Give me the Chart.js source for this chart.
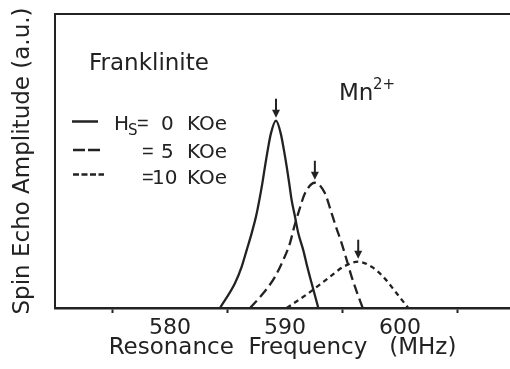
<!DOCTYPE html>
<html>
<head>
<meta charset="utf-8">
<script src="https://cdn.jsdelivr.net/npm/chart.js@4"></script>
<style>
  html, body { margin: 0; padding: 0; background: #fff; }
  #wrap { width: 510px; height: 369px; }
</style>
</head>
<body>
<div id="wrap"><canvas id="myChart"></canvas></div>
<script>
// values (frequency in MHz, amplitude in a.u.)
const freq0 = [584.35, 585.65, 586.23, 586.67, 587.1, 587.48, 587.77, 588.03, 588.26, 588.5, 588.78, 589.22,
               589.63, 589.91, 590.15, 590.37, 590.58, 590.87, 591.16, 591.59, 591.94, 592.32, 592.9];
const amp0  = [0, 8.4, 14, 19.7, 25.4, 31.1, 36.7, 42.4, 48.1, 53.7, 59.4, 63.7,
               59.4, 53.7, 48.1, 42.4, 36.7, 31.1, 25.4, 19.7, 14, 8.4, 0];

const freq5 = [586.96, 588.11, 589.13, 589.85, 590.43, 590.81, 591.24, 591.74, 592.6,
               593.48, 593.97, 594.43, 594.93, 595.37, 595.8, 596.29, 596.76];
const amp5  = [0, 5, 10.6, 16.3, 22, 27.7, 33.3, 39, 42.6,
               39, 33.3, 27.7, 22, 16.3, 10.6, 5, 0];

const freq10 = [590.15, 592.03, 593.91, 595.07, 596.37, 597.54, 598.55, 599.71, 600.72];
const amp10  = [0, 5, 10.6, 14, 15.75, 14, 10.6, 5, 0];

const tickValues = [575, 580, 585, 590, 595, 600, 605];
const tickLabels = { 580: '580', 590: '590', 600: '600' };

const INK = '#222';
const FONT = "'DejaVu Sans', sans-serif";

function pts(xs, ys) {
  return xs.map((x, i) => ({ x: x, y: ys[i] }));
}

const annotations = {
  id: 'annotations',
  afterDatasetsDraw(chart) {
    const ctx = chart.ctx;
    const xs = chart.scales.x, ys = chart.scales.y;
    ctx.save();
    ctx.fillStyle = INK;
    ctx.strokeStyle = INK;
    ctx.textBaseline = 'alphabetic';
    ctx.textAlign = 'left';

    // arrows above each peak
    chart.data.datasets.forEach(ds => {
      let top = ds.data[0];
      ds.data.forEach(p => { if (p.y > top.y) top = p; });
      const px = xs.getPixelForValue(top.x);
      const py = ys.getPixelForValue(top.y);
      ctx.lineWidth = 2;
      ctx.setLineDash([]);
      ctx.beginPath();
      ctx.moveTo(px, py - 22);
      ctx.lineTo(px, py - 8);
      ctx.stroke();
      ctx.beginPath();
      ctx.moveTo(px, py - 3);
      ctx.lineTo(px - 4, py - 11);
      ctx.lineTo(px + 4, py - 11);
      ctx.closePath();
      ctx.fill();
    });

    ctx.font = '23px ' + FONT;
    ctx.fillText('Franklinite', 89, 70);
    ctx.fillText('Mn', 339, 100);
    ctx.font = '15px ' + FONT;
    ctx.fillText('2+', 373, 89);

    // legend samples
    const samples = [
      { y: 121.5, dash: [], x1: 72, x2: 98 },
      { y: 150, dash: [12, 3], x1: 73, x2: 100 },
      { y: 174.5, dash: [6, 2.5], x1: 73, x2: 104 }
    ];
    ctx.lineWidth = 2.5;
    samples.forEach(s => {
      ctx.setLineDash(s.dash);
      ctx.beginPath();
      ctx.moveTo(s.x1, s.y);
      ctx.lineTo(s.x2, s.y);
      ctx.stroke();
    });
    ctx.setLineDash([]);

    ctx.font = '20px ' + FONT;
    ctx.fillText('H', 114, 130);
    ctx.font = '15px ' + FONT;
    ctx.fillText('S', 128, 135);
    ctx.font = "20px 'Liberation Sans', sans-serif";
    ctx.fillText('=', 137, 130);
    ctx.fillText('=', 142, 158);
    ctx.fillText('=', 142, 184);
    ctx.font = '20px ' + FONT;
    ctx.fillText('0', 161, 130);
    ctx.fillText('5', 161, 158);
    ctx.fillText('10', 152, 184);
    ctx.fillText('KOe', 187, 130);
    ctx.fillText('KOe', 187, 158);
    ctx.fillText('KOe', 187, 184);
    ctx.restore();
  }
};

const data = {
  datasets: [
    { label: 'Hs = 0 KOe', data: pts(freq0, amp0), borderDash: [] },
    { label: 'Hs = 5 KOe', data: pts(freq5, amp5), borderDash: [10, 5] },
    { label: 'Hs = 10 KOe', data: pts(freq10, amp10), borderDash: [5, 4] }
  ].map(d => Object.assign(d, {
    borderColor: INK,
    borderWidth: 2.3,
    pointRadius: 0,
    fill: false,
    cubicInterpolationMode: 'monotone'
  }))
};

const config = {
  type: 'line',
  data: data,
  options: {
    responsive: true,
    maintainAspectRatio: false,
    animation: false,
    layout: { padding: 0 },
    plugins: {
      legend: { display: false },
      tooltip: { enabled: false }
    },
    scales: {
      x: {
        type: 'linear',
        position: 'bottom',
        min: 570,
        max: 609.57,
        afterBuildTicks: s => { s.ticks = tickValues.map(v => ({ value: v })); },
        afterFit: s => { s.height = 61; },
        grid: {
          drawOnChartArea: false,
          drawTicks: true,
          tickLength: 5,
          tickWidth: 2,
          tickColor: c => (c.tick && c.tick.value % 10 === 5) ? INK : 'rgba(0,0,0,0)'
        },
        border: { display: true, color: INK, width: 2.5 },
        ticks: {
          color: INK,
          font: { family: FONT, size: 22 },
          padding: 2,
          maxRotation: 0,
          autoSkip: false,
          callback: v => tickLabels[v] || ''
        },
        title: {
          display: true,
          text: 'Resonance  Frequency   (MHz)',
          color: INK,
          font: { family: FONT, size: 23 },
          padding: { top: 0, bottom: 7 }
        }
      },
      x2: {
        type: 'linear',
        position: 'top',
        display: true,
        afterFit: s => { s.height = 14; },
        grid: { display: false },
        ticks: { display: false },
        border: { display: true, color: INK, width: 2 }
      },
      y: {
        min: 0,
        max: 100,
        afterFit: s => { s.width = 55; },
        grid: { display: false },
        ticks: { display: false },
        border: { display: true, color: INK, width: 2 },
        title: {
          display: true,
          text: 'Spin Echo Amplitude (a.u.)',
          color: INK,
          font: { family: FONT, size: 23 },
          padding: { top: 9, bottom: 0 }
        }
      }
    }
  },
  plugins: [annotations]
};

window.onload = function() {
  const ctx = document.getElementById('myChart').getContext('2d');
  new Chart(ctx, config);
};
</script>
</body>
</html>
